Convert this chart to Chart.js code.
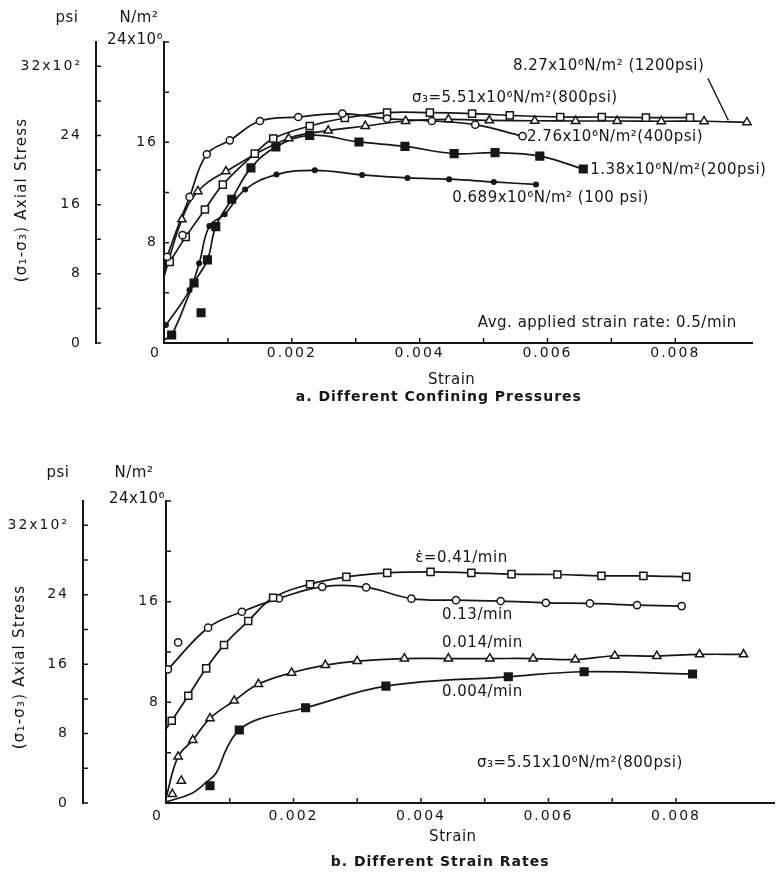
<!DOCTYPE html>
<html>
<head>
<meta charset="utf-8">
<title>Axial stress vs strain</title>
<script src="https://cdn.jsdelivr.net/npm/chart.js@4.4.1/dist/chart.umd.min.js"></script>
<style>
  html, body { margin: 0; padding: 0; background: #fff; }
  #wrap { position: relative; width: 781px; height: 872px; }
  canvas { position: absolute; left: 0; }
  #chartA { top: 0; }
  #chartB { top: 436px; }
</style>
</head>
<body>
<div id="wrap">
  <canvas id="chartA" width="781" height="436"></canvas>
  <canvas id="chartB" width="781" height="436"></canvas>
</div>
<script>
// strain is plain strain, stress is in 10^6 N/m^2
const FONT = '"DejaVu Sans", "Liberation Sans", sans-serif';
const INK = '#161616';
const PSI_PER_MPA = 145.038;

// --- a. different confining pressures ---
const dots100 = [[0.00003,1.43],[0.00040,4.22],[0.00055,6.35],[0.00071,9.32],[0.00095,10.27],[0.00127,12.24],[0.00176,13.43],[0.00236,13.77],[0.00310,13.40],[0.00381,13.16],[0.00446,13.06],[0.00516,12.84],[0.00582,12.64]];
const sq200 = [[0.00012,0.64],[0.00047,4.78],[0.00068,6.63],[0.00081,9.28],[0.00106,11.46],[0.00136,13.96],[0.00175,15.63],[0.00228,16.56],[0.00305,16.03],[0.00377,15.68],[0.00454,15.10],[0.00518,15.18],[0.00588,14.90],[0.00656,13.87]];
const sq200Start = [[0.00000,0.25]];
const sq200Stray = [[0.00058,2.41]];
const circ400 = [[0.00005,6.87],[0.00040,11.65],[0.00067,15.05],[0.00103,16.16],[0.00150,17.70],[0.00210,18.02],[0.00279,18.29],[0.00349,17.89],[0.00419,17.70],[0.00487,17.41],[0.00561,16.49]];
const circ400Start = [[0.00000,5.30]];
const circ400Stray = [[0.00029,8.60]];
const sq800 = [[0.00009,6.47],[0.00034,8.46],[0.00064,10.64],[0.00092,12.63],[0.00142,15.10],[0.00171,16.30],[0.00228,17.30],[0.00283,17.94],[0.00349,18.37],[0.00416,18.37],[0.00482,18.29],[0.00541,18.15],[0.00620,18.02],[0.00685,18.02],[0.00754,17.97],[0.00823,17.97]];
const tri1200 = [[0.00028,9.85],[0.00053,12.10],[0.00097,13.69],[0.00195,16.32],[0.00257,16.93],[0.00315,17.30],[0.00378,17.70],[0.00445,17.83],[0.00509,17.75],[0.00580,17.72],[0.00644,17.70],[0.00709,17.70],[0.00778,17.68],[0.00845,17.68],[0.00912,17.60]];
const tri1200Start = [[0.00000,5.30]];

// --- b. different strain rates (sigma3 = 800 psi) ---
const sq041 = [[0.00009,6.54],[0.00035,8.52],[0.00063,10.70],[0.00091,12.55],[0.00129,14.46],[0.00168,16.31],[0.00226,17.39],[0.00283,17.97],[0.00347,18.29],[0.00415,18.37],[0.00479,18.29],[0.00542,18.19],[0.00614,18.16],[0.00683,18.05],[0.00749,18.05],[0.00816,17.97]];
const sq041Start = [[0.00000,5.90]];
const circ013 = [[0.00003,10.62],[0.00066,13.93],[0.00119,15.20],[0.00177,16.26],[0.00245,17.18],[0.00314,17.13],[0.00385,16.24],[0.00455,16.12],[0.00525,16.05],[0.00596,15.91],[0.00665,15.86],[0.00739,15.73],[0.00809,15.65]];
const circ013Stray = [[0.00019,12.76]];
const tri0014 = [[0.00019,3.68],[0.00042,5.00],[0.00069,6.73],[0.00107,8.13],[0.00145,9.45],[0.00197,10.35],[0.00250,10.96],[0.00300,11.28],[0.00374,11.48],[0.00443,11.48],[0.00508,11.48],[0.00576,11.48],[0.00642,11.40],[0.00704,11.70],[0.00770,11.68],[0.00837,11.81],[0.00906,11.81]];
const tri0014Start = [[0.00000,0.40]];
const tri0014Stray = [[0.00010,0.71],[0.00024,1.77]];
const sq0004 = [[0.00069,1.37],[0.00115,5.80],[0.00219,7.57],[0.00345,9.29],[0.00537,10.03],[0.00656,10.43],[0.00826,10.25]];
const sq0004Curve = [[0.00001,0.10],[0.00040,0.75],[0.00062,1.60],[0.00079,2.40],[0.00094,4.20],[0.00112,5.66],[0.00141,6.59],[0.00219,7.57],[0.00345,9.29],[0.00537,10.03],[0.00656,10.43],[0.00826,10.25]];

// axis ticks
const strainStep = 0.001;
const strainLabels = [0.002, 0.004, 0.006, 0.008];
const stressStep = 4;
const stressLabels = [8, 16];
const psiLabels = [0, 8, 16, 24];
const psiTopLabel = 32;

const markerStyles = {
  dot:      { pointStyle: 'circle',   pointRadius: 2.3, pointBackgroundColor: INK },
  fillSq:   { pointStyle: 'rect',     pointRadius: 5.4, pointBackgroundColor: INK },
  openCirc: { pointStyle: 'circle',   pointRadius: 3.6, pointBackgroundColor: '#fff' },
  openSq:   { pointStyle: 'rect',     pointRadius: 5.0, pointBackgroundColor: '#fff' },
  openTri:  { pointStyle: 'triangle', pointRadius: 4.8, pointBackgroundColor: '#fff' }
};

function xy(list) { return list.map(([x, y]) => ({ x, y })); }
function onStep(v, step) { return Math.abs(v / step - Math.round(v / step)) < 1e-6; }
function near(v, list) { return list.some(l => Math.abs(v - l) < 1e-9); }

function buildDatasets(series) {
  const sets = [];
  series.forEach(s => {
    sets.push({
      data: xy(s.line), showLine: true, pointRadius: 0, borderColor: INK,
      borderWidth: 1.7, tension: 0.4, order: 2
    });
    sets.push(Object.assign({
      data: xy(s.marks), showLine: false, pointBorderColor: INK,
      pointBorderWidth: 1.5, order: 1
    }, markerStyles[s.marker]));
  });
  return sets;
}

function drawText(ctx, text, x, y, opt) {
  opt = opt || {};
  ctx.save();
  ctx.font = (opt.bold ? 'bold ' : '') + (opt.size || 15) + 'px ' + FONT;
  ctx.letterSpacing = (opt.spacing != null ? opt.spacing : 0.5) + 'px';
  ctx.fillStyle = INK;
  ctx.textAlign = opt.align || 'left';
  ctx.textBaseline = 'middle';
  if (opt.rotate) {
    ctx.translate(x, y);
    ctx.rotate(opt.rotate);
    ctx.fillText(text, 0, 0);
  } else {
    ctx.fillText(text, x, y);
  }
  ctx.restore();
}

// small tick marks pointing into the plot
const inwardTicks = {
  id: 'inwardTicks',
  afterDraw(chart) {
    const ctx = chart.ctx;
    const x = chart.scales.x, y = chart.scales.y, p = chart.scales.psi;
    ctx.save();
    ctx.strokeStyle = INK;
    ctx.lineWidth = 1.5;
    ctx.beginPath();
    x.ticks.forEach(t => {
      if (t.value > 0 && onStep(t.value, strainStep)) {
        const px = x.getPixelForValue(t.value);
        ctx.moveTo(px, x.top);
        ctx.lineTo(px, x.top - 5);
      }
    });
    [y, p].forEach(s => s.ticks.forEach(t => {
      if (onStep(t.value, stressStep)) {
        const py = s.getPixelForValue(t.value);
        ctx.moveTo(s.right, py);
        ctx.lineTo(s.right + 5, py);
      }
    }));
    ctx.stroke();
    ctx.restore();
  }
};

// keeps the spaced lettering for tick labels
const spacing = {
  id: 'spacing',
  beforeUpdate(chart) { chart.ctx.letterSpacing = '2px'; },
  beforeDraw(chart) { chart.ctx.letterSpacing = '2px'; }
};

// labels, headers, titles
const notesPlugin = {
  id: 'notes',
  afterDraw(chart, args, opts) {
    const ctx = chart.ctx;
    const x = chart.scales.x, y = chart.scales.y, p = chart.scales.psi;
    const c = opts.cfg;
    c.notes.forEach(n => {
      drawText(ctx, n.text, x.getPixelForValue(n.x), y.getPixelForValue(n.y));
    });
    if (c.leader) {
      ctx.save();
      ctx.strokeStyle = INK;
      ctx.lineWidth = 1.3;
      ctx.beginPath();
      ctx.moveTo(x.getPixelForValue(c.leader[0][0]), y.getPixelForValue(c.leader[0][1]));
      ctx.lineTo(x.getPixelForValue(c.leader[1][0]), y.getPixelForValue(c.leader[1][1]));
      ctx.stroke();
      ctx.restore();
    }
    const top = chart.chartArea.top;
    drawText(ctx, 'psi', p.right - c.head.psi, top - c.head.dy, { align: 'center' });
    drawText(ctx, 'N/m²', y.right - c.head.nm, top - c.head.dy, { align: 'center' });
    drawText(ctx, '24x10⁶', y.right - 1, y.getPixelForValue(24) - 2, { align: 'right' });
    drawText(ctx, '0', x.left - 9, x.top + c.zeroDy, { size: 14, spacing: 1, align: 'center' });
    drawText(ctx, '(σ₁-σ₃) Axial Stress', c.yTitle[0], c.yTitle[1], { spacing: 1.2, align: 'center', rotate: -Math.PI / 2 });
    drawText(ctx, 'Strain', x.getPixelForValue(0.0045), x.top + c.strainDy, { align: 'center' });
    drawText(ctx, c.caption, x.getPixelForValue(0.0043), x.top + c.captionDy, { size: 14, spacing: 1, bold: true, align: 'center' });
  }
};

function makeChart(c) {
  const tickFont = { family: FONT, size: 14 };
  return new Chart(document.getElementById(c.canvas), {
    type: 'scatter',
    data: { datasets: buildDatasets(c.series) },
    options: {
      responsive: false,
      animation: false,
      layout: { padding: { top: c.top, right: c.padRight, bottom: 0, left: 0 } },
      plugins: { legend: { display: false }, tooltip: { enabled: false }, notes: { cfg: c } },
      scales: {
        x: {
          type: 'linear', position: 'bottom', min: 0, max: c.xMax,
          grid: { display: false, drawTicks: false },
          border: { display: true, color: INK, width: 2 },
          ticks: {
            stepSize: strainStep, autoSkip: false, maxRotation: 0, padding: c.xPad,
            color: INK, font: tickFont,
            callback: v => near(v, strainLabels) ? v.toFixed(3) : ''
          },
          afterFit: s => { s.height = c.xAxisH; }
        },
        y: {
          type: 'linear', position: 'left', weight: 0, min: 0, max: 24,
          grid: { display: false, drawTicks: false },
          border: { display: true, color: INK, width: 2 },
          ticks: {
            stepSize: stressStep, autoSkip: false, padding: 6, color: INK, font: tickFont,
            callback: v => near(v, stressLabels) ? String(v) : ''
          },
          afterFit: s => { s.width = c.innerW; }
        },
        psi: {
          type: 'linear', position: 'left', weight: 1, min: 0, max: 24 * PSI_PER_MPA / 100,
          grid: { display: false, drawTicks: false },
          border: { display: true, color: INK, width: 2 },
          ticks: {
            stepSize: stressStep, autoSkip: false, padding: 14, color: INK, font: tickFont,
            callback: v => v === psiTopLabel ? '32x10²' : (near(v, psiLabels) ? String(v) : '')
          },
          afterFit: s => { s.width = c.psiW; }
        }
      }
    },
    plugins: [spacing, inwardTicks, notesPlugin]
  });
}

makeChart({
  canvas: 'chartA',
  xMax: 0.0092, top: 42, padRight: 29, xAxisH: 93, innerW: 68, psiW: 96, xPad: 2,
  head: { psi: 29, nm: 25, dy: 24 }, zeroDy: 10, strainDy: 37, captionDy: 54,
  yTitle: [22, 200],
  caption: 'a. Different Confining Pressures',
  series: [
    { line: dots100, marks: dots100, marker: 'dot' },
    { line: sq200Start.concat(sq200), marks: sq200.concat(sq200Stray), marker: 'fillSq' },
    { line: circ400Start.concat(circ400), marks: circ400.concat(circ400Stray), marker: 'openCirc' },
    { line: sq800, marks: sq800, marker: 'openSq' },
    { line: tri1200Start.concat(tri1200), marks: tri1200, marker: 'openTri' }
  ],
  notes: [
    { text: '8.27x10⁶N/m² (1200psi)', x: 0.00546, y: 22.1 },
    { text: 'σ₃=5.51x10⁶N/m²(800psi)', x: 0.00388, y: 19.5 },
    { text: '2.76x10⁶N/m²(400psi)', x: 0.00568, y: 16.4 },
    { text: '1.38x10⁶N/m²(200psi)', x: 0.00667, y: 13.77 },
    { text: '0.689x10⁶N/m² (100 psi)', x: 0.00451, y: 11.54 },
    { text: 'Avg. applied strain rate: 0.5/min', x: 0.00491, y: 1.6 }
  ],
  leader: [[0.00851, 21.1], [0.00883, 17.75]]
});

makeChart({
  canvas: 'chartB',
  xMax: 0.00954, top: 65, padRight: 1, xAxisH: 69, innerW: 83, psiW: 83, xPad: 5,
  head: { psi: 25, nm: 32, dy: 28 }, zeroDy: 13, strainDy: 34, captionDy: 59,
  yTitle: [20, 231],
  caption: 'b. Different Strain Rates',
  series: [
    { line: sq041Start.concat(sq041), marks: sq041, marker: 'openSq' },
    { line: circ013, marks: circ013.concat(circ013Stray), marker: 'openCirc' },
    { line: tri0014Start.concat(tri0014), marks: tri0014.concat(tri0014Stray), marker: 'openTri' },
    { line: sq0004Curve, marks: sq0004, marker: 'fillSq' }
  ],
  notes: [
    { text: 'ε̇=0.41/min', x: 0.00391, y: 19.46 },
    { text: '0.13/min', x: 0.00433, y: 14.93 },
    { text: '0.014/min', x: 0.00433, y: 12.71 },
    { text: '0.004/min', x: 0.00433, y: 8.82 },
    { text: 'σ₃=5.51x10⁶N/m²(800psi)', x: 0.00488, y: 3.18 }
  ],
  leader: null
});
</script>
</body>
</html>
